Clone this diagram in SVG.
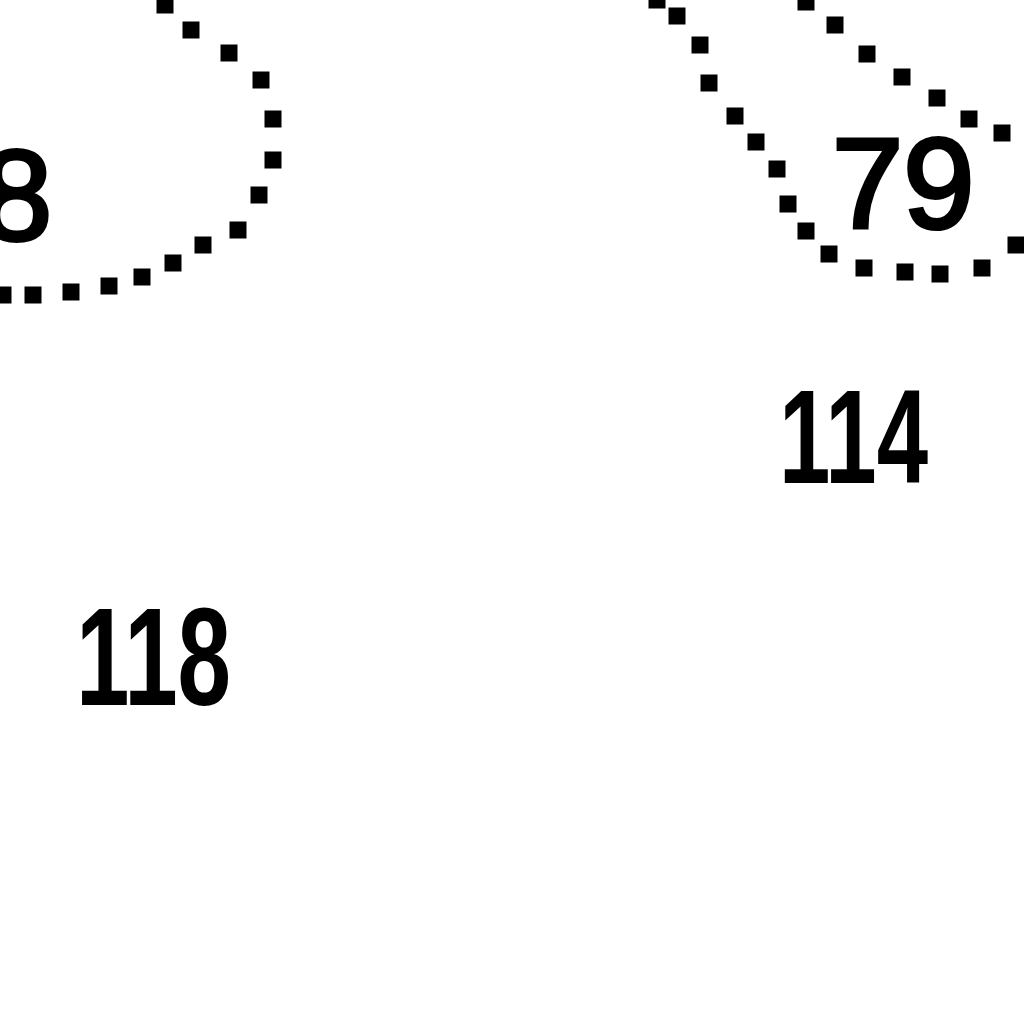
<svg xmlns="http://www.w3.org/2000/svg" xmlns:xlink="http://www.w3.org/1999/xlink" width="1024" height="1024" viewBox="0 0 1024 1024">
<style>
.lbl{font-family:"Liberation Sans",Arial,sans-serif;fill:#000}
.r{stroke:#000;stroke-width:4}
.b{font-weight:bold}
</style>
<defs>
<rect id="d" x="-8.5" y="-8.5" width="17" height="17" fill="#000"/>
</defs>
<rect width="1024" height="1024" fill="#fff"/>
<g id="outline-left">
<use xlink:href="#d" x="165" y="5"/>
<use xlink:href="#d" x="191" y="30"/>
<use xlink:href="#d" x="229" y="53"/>
<use xlink:href="#d" x="261" y="80"/>
<use xlink:href="#d" x="273" y="119"/>
<use xlink:href="#d" x="273" y="160"/>
<use xlink:href="#d" x="259" y="195"/>
<use xlink:href="#d" x="238" y="230"/>
<use xlink:href="#d" x="203" y="245"/>
<use xlink:href="#d" x="173" y="263"/>
<use xlink:href="#d" x="142" y="277"/>
<use xlink:href="#d" x="109" y="286"/>
<use xlink:href="#d" x="71" y="292"/>
<use xlink:href="#d" x="33" y="295"/>
<use xlink:href="#d" x="3" y="295"/>
</g>
<g id="outline-right">
<use xlink:href="#d" x="657" y="0"/>
<use xlink:href="#d" x="677" y="16"/>
<use xlink:href="#d" x="700" y="45"/>
<use xlink:href="#d" x="709" y="83"/>
<use xlink:href="#d" x="735" y="116"/>
<use xlink:href="#d" x="756" y="142"/>
<use xlink:href="#d" x="777" y="169"/>
<use xlink:href="#d" x="788" y="204"/>
<use xlink:href="#d" x="806" y="231"/>
<use xlink:href="#d" x="829" y="254"/>
<use xlink:href="#d" x="864" y="268"/>
<use xlink:href="#d" x="905" y="272"/>
<use xlink:href="#d" x="940" y="274"/>
<use xlink:href="#d" x="982" y="268"/>
<use xlink:href="#d" x="1016" y="245"/>
<use xlink:href="#d" x="806" y="2"/>
<use xlink:href="#d" x="835" y="25"/>
<use xlink:href="#d" x="867" y="54"/>
<use xlink:href="#d" x="902" y="77"/>
<use xlink:href="#d" x="937" y="98"/>
<use xlink:href="#d" x="969" y="119"/>
<use xlink:href="#d" x="1002" y="133"/>
</g>
<g id="labels">
<text id="t8" class="lbl r" x="-19" y="240" font-size="128">8</text>
<text id="t79" class="lbl r" x="832" y="228" font-size="128">79</text>
<text id="t114" class="lbl b" x="779" y="483" font-size="133" textLength="149" lengthAdjust="spacingAndGlyphs">114</text>
<text id="t118" class="lbl b" x="76" y="705" font-size="140" textLength="155" lengthAdjust="spacingAndGlyphs">118</text>
</g>
</svg>
